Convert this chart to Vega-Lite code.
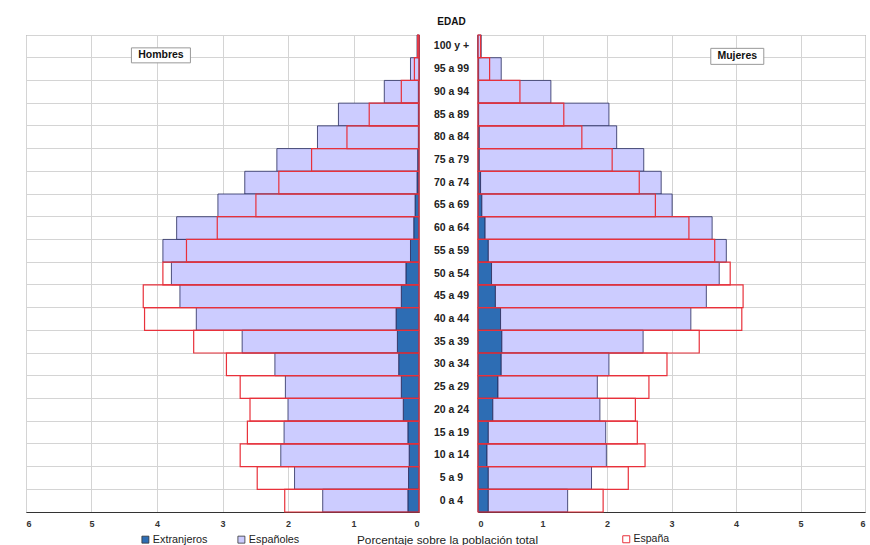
{
  "$schema": "https://vega.github.io/schema/vega-lite/v6.json",
  "background": "white",
  "padding": {"left": 25, "top": 15, "right": 0, "bottom": 0},
  "config": {
    "font": "Liberation Sans",
    "view": {"stroke": "#777777", "strokeWidth": 1}
  },
  "datasets": {
    "pop": [
      {"edad": "100 y +", "sexo": "Hombres", "serie": "Extranjeros", "valor": 0.0},
      {"edad": "95 a 99", "sexo": "Hombres", "serie": "Extranjeros", "valor": 0.0},
      {"edad": "90 a 94", "sexo": "Hombres", "serie": "Extranjeros", "valor": 0.01},
      {"edad": "85 a 89", "sexo": "Hombres", "serie": "Extranjeros", "valor": 0.01},
      {"edad": "80 a 84", "sexo": "Hombres", "serie": "Extranjeros", "valor": 0.01},
      {"edad": "75 a 79", "sexo": "Hombres", "serie": "Extranjeros", "valor": 0.02},
      {"edad": "70 a 74", "sexo": "Hombres", "serie": "Extranjeros", "valor": 0.03},
      {"edad": "65 a 69", "sexo": "Hombres", "serie": "Extranjeros", "valor": 0.06},
      {"edad": "60 a 64", "sexo": "Hombres", "serie": "Extranjeros", "valor": 0.08},
      {"edad": "55 a 59", "sexo": "Hombres", "serie": "Extranjeros", "valor": 0.13},
      {"edad": "50 a 54", "sexo": "Hombres", "serie": "Extranjeros", "valor": 0.2},
      {"edad": "45 a 49", "sexo": "Hombres", "serie": "Extranjeros", "valor": 0.27},
      {"edad": "40 a 44", "sexo": "Hombres", "serie": "Extranjeros", "valor": 0.35},
      {"edad": "35 a 39", "sexo": "Hombres", "serie": "Extranjeros", "valor": 0.33},
      {"edad": "30 a 34", "sexo": "Hombres", "serie": "Extranjeros", "valor": 0.31},
      {"edad": "25 a 29", "sexo": "Hombres", "serie": "Extranjeros", "valor": 0.27},
      {"edad": "20 a 24", "sexo": "Hombres", "serie": "Extranjeros", "valor": 0.24},
      {"edad": "15 a 19", "sexo": "Hombres", "serie": "Extranjeros", "valor": 0.17},
      {"edad": "10 a 14", "sexo": "Hombres", "serie": "Extranjeros", "valor": 0.15},
      {"edad": "5 a 9", "sexo": "Hombres", "serie": "Extranjeros", "valor": 0.16},
      {"edad": "0 a 4", "sexo": "Hombres", "serie": "Extranjeros", "valor": 0.17},
      {"edad": "100 y +", "sexo": "Hombres", "serie": "Españoles", "valor": 0.03},
      {"edad": "95 a 99", "sexo": "Hombres", "serie": "Españoles", "valor": 0.13},
      {"edad": "90 a 94", "sexo": "Hombres", "serie": "Españoles", "valor": 0.52},
      {"edad": "85 a 89", "sexo": "Hombres", "serie": "Españoles", "valor": 1.22},
      {"edad": "80 a 84", "sexo": "Hombres", "serie": "Españoles", "valor": 1.54},
      {"edad": "75 a 79", "sexo": "Hombres", "serie": "Españoles", "valor": 2.15},
      {"edad": "70 a 74", "sexo": "Hombres", "serie": "Españoles", "valor": 2.63},
      {"edad": "65 a 69", "sexo": "Hombres", "serie": "Españoles", "valor": 3.01},
      {"edad": "60 a 64", "sexo": "Hombres", "serie": "Españoles", "valor": 3.62},
      {"edad": "55 a 59", "sexo": "Hombres", "serie": "Españoles", "valor": 3.78},
      {"edad": "50 a 54", "sexo": "Hombres", "serie": "Españoles", "valor": 3.58},
      {"edad": "45 a 49", "sexo": "Hombres", "serie": "Españoles", "valor": 3.38},
      {"edad": "40 a 44", "sexo": "Hombres", "serie": "Españoles", "valor": 3.05},
      {"edad": "35 a 39", "sexo": "Hombres", "serie": "Españoles", "valor": 2.37},
      {"edad": "30 a 34", "sexo": "Hombres", "serie": "Españoles", "valor": 1.89},
      {"edad": "25 a 29", "sexo": "Hombres", "serie": "Españoles", "valor": 1.77},
      {"edad": "20 a 24", "sexo": "Hombres", "serie": "Españoles", "valor": 1.76},
      {"edad": "15 a 19", "sexo": "Hombres", "serie": "Españoles", "valor": 1.89},
      {"edad": "10 a 14", "sexo": "Hombres", "serie": "Españoles", "valor": 1.96},
      {"edad": "5 a 9", "sexo": "Hombres", "serie": "Españoles", "valor": 1.74},
      {"edad": "0 a 4", "sexo": "Hombres", "serie": "Españoles", "valor": 1.3},
      {"edad": "100 y +", "sexo": "Hombres", "serie": "España", "valor": 0.02},
      {"edad": "95 a 99", "sexo": "Hombres", "serie": "España", "valor": 0.07},
      {"edad": "90 a 94", "sexo": "Hombres", "serie": "España", "valor": 0.27},
      {"edad": "85 a 89", "sexo": "Hombres", "serie": "España", "valor": 0.76},
      {"edad": "80 a 84", "sexo": "Hombres", "serie": "España", "valor": 1.1},
      {"edad": "75 a 79", "sexo": "Hombres", "serie": "España", "valor": 1.64},
      {"edad": "70 a 74", "sexo": "Hombres", "serie": "España", "valor": 2.14},
      {"edad": "65 a 69", "sexo": "Hombres", "serie": "España", "valor": 2.49},
      {"edad": "60 a 64", "sexo": "Hombres", "serie": "España", "valor": 3.08},
      {"edad": "55 a 59", "sexo": "Hombres", "serie": "España", "valor": 3.55},
      {"edad": "50 a 54", "sexo": "Hombres", "serie": "España", "valor": 3.91},
      {"edad": "45 a 49", "sexo": "Hombres", "serie": "España", "valor": 4.21},
      {"edad": "40 a 44", "sexo": "Hombres", "serie": "España", "valor": 4.19},
      {"edad": "35 a 39", "sexo": "Hombres", "serie": "España", "valor": 3.44},
      {"edad": "30 a 34", "sexo": "Hombres", "serie": "España", "valor": 2.94},
      {"edad": "25 a 29", "sexo": "Hombres", "serie": "España", "valor": 2.73},
      {"edad": "20 a 24", "sexo": "Hombres", "serie": "España", "valor": 2.58},
      {"edad": "15 a 19", "sexo": "Hombres", "serie": "España", "valor": 2.62},
      {"edad": "10 a 14", "sexo": "Hombres", "serie": "España", "valor": 2.73},
      {"edad": "5 a 9", "sexo": "Hombres", "serie": "España", "valor": 2.47},
      {"edad": "0 a 4", "sexo": "Hombres", "serie": "España", "valor": 2.05},
      {"edad": "100 y +", "sexo": "Mujeres", "serie": "Extranjeros", "valor": 0.0},
      {"edad": "95 a 99", "sexo": "Mujeres", "serie": "Extranjeros", "valor": 0.01},
      {"edad": "90 a 94", "sexo": "Mujeres", "serie": "Extranjeros", "valor": 0.01},
      {"edad": "85 a 89", "sexo": "Mujeres", "serie": "Extranjeros", "valor": 0.01},
      {"edad": "80 a 84", "sexo": "Mujeres", "serie": "Extranjeros", "valor": 0.02},
      {"edad": "75 a 79", "sexo": "Mujeres", "serie": "Extranjeros", "valor": 0.02},
      {"edad": "70 a 74", "sexo": "Mujeres", "serie": "Extranjeros", "valor": 0.04},
      {"edad": "65 a 69", "sexo": "Mujeres", "serie": "Extranjeros", "valor": 0.06},
      {"edad": "60 a 64", "sexo": "Mujeres", "serie": "Extranjeros", "valor": 0.11},
      {"edad": "55 a 59", "sexo": "Mujeres", "serie": "Extranjeros", "valor": 0.16},
      {"edad": "50 a 54", "sexo": "Mujeres", "serie": "Extranjeros", "valor": 0.21},
      {"edad": "45 a 49", "sexo": "Mujeres", "serie": "Extranjeros", "valor": 0.27},
      {"edad": "40 a 44", "sexo": "Mujeres", "serie": "Extranjeros", "valor": 0.35},
      {"edad": "35 a 39", "sexo": "Mujeres", "serie": "Extranjeros", "valor": 0.37},
      {"edad": "30 a 34", "sexo": "Mujeres", "serie": "Extranjeros", "valor": 0.36},
      {"edad": "25 a 29", "sexo": "Mujeres", "serie": "Extranjeros", "valor": 0.31},
      {"edad": "20 a 24", "sexo": "Mujeres", "serie": "Extranjeros", "valor": 0.23},
      {"edad": "15 a 19", "sexo": "Mujeres", "serie": "Extranjeros", "valor": 0.16},
      {"edad": "10 a 14", "sexo": "Mujeres", "serie": "Extranjeros", "valor": 0.14},
      {"edad": "5 a 9", "sexo": "Mujeres", "serie": "Extranjeros", "valor": 0.16},
      {"edad": "0 a 4", "sexo": "Mujeres", "serie": "Extranjeros", "valor": 0.16},
      {"edad": "100 y +", "sexo": "Mujeres", "serie": "Españoles", "valor": 0.05},
      {"edad": "95 a 99", "sexo": "Mujeres", "serie": "Españoles", "valor": 0.35},
      {"edad": "90 a 94", "sexo": "Mujeres", "serie": "Españoles", "valor": 1.12},
      {"edad": "85 a 89", "sexo": "Mujeres", "serie": "Españoles", "valor": 2.02},
      {"edad": "80 a 84", "sexo": "Mujeres", "serie": "Españoles", "valor": 2.13},
      {"edad": "75 a 79", "sexo": "Mujeres", "serie": "Españoles", "valor": 2.55},
      {"edad": "70 a 74", "sexo": "Mujeres", "serie": "Españoles", "valor": 2.8},
      {"edad": "65 a 69", "sexo": "Mujeres", "serie": "Españoles", "valor": 2.95},
      {"edad": "60 a 64", "sexo": "Mujeres", "serie": "Españoles", "valor": 3.52},
      {"edad": "55 a 59", "sexo": "Mujeres", "serie": "Españoles", "valor": 3.69},
      {"edad": "50 a 54", "sexo": "Mujeres", "serie": "Españoles", "valor": 3.53},
      {"edad": "45 a 49", "sexo": "Mujeres", "serie": "Españoles", "valor": 3.27},
      {"edad": "40 a 44", "sexo": "Mujeres", "serie": "Españoles", "valor": 2.95},
      {"edad": "35 a 39", "sexo": "Mujeres", "serie": "Españoles", "valor": 2.19},
      {"edad": "30 a 34", "sexo": "Mujeres", "serie": "Españoles", "valor": 1.67},
      {"edad": "25 a 29", "sexo": "Mujeres", "serie": "Españoles", "valor": 1.54},
      {"edad": "20 a 24", "sexo": "Mujeres", "serie": "Españoles", "valor": 1.66},
      {"edad": "15 a 19", "sexo": "Mujeres", "serie": "Españoles", "valor": 1.82},
      {"edad": "10 a 14", "sexo": "Mujeres", "serie": "Españoles", "valor": 1.85},
      {"edad": "5 a 9", "sexo": "Mujeres", "serie": "Españoles", "valor": 1.6},
      {"edad": "0 a 4", "sexo": "Mujeres", "serie": "Españoles", "valor": 1.23},
      {"edad": "100 y +", "sexo": "Mujeres", "serie": "España", "valor": 0.04},
      {"edad": "95 a 99", "sexo": "Mujeres", "serie": "España", "valor": 0.18},
      {"edad": "90 a 94", "sexo": "Mujeres", "serie": "España", "valor": 0.65},
      {"edad": "85 a 89", "sexo": "Mujeres", "serie": "España", "valor": 1.33},
      {"edad": "80 a 84", "sexo": "Mujeres", "serie": "España", "valor": 1.61},
      {"edad": "75 a 79", "sexo": "Mujeres", "serie": "España", "valor": 2.08},
      {"edad": "70 a 74", "sexo": "Mujeres", "serie": "España", "valor": 2.5},
      {"edad": "65 a 69", "sexo": "Mujeres", "serie": "España", "valor": 2.75},
      {"edad": "60 a 64", "sexo": "Mujeres", "serie": "España", "valor": 3.27},
      {"edad": "55 a 59", "sexo": "Mujeres", "serie": "España", "valor": 3.67},
      {"edad": "50 a 54", "sexo": "Mujeres", "serie": "España", "valor": 3.91},
      {"edad": "45 a 49", "sexo": "Mujeres", "serie": "España", "valor": 4.11},
      {"edad": "40 a 44", "sexo": "Mujeres", "serie": "España", "valor": 4.09},
      {"edad": "35 a 39", "sexo": "Mujeres", "serie": "España", "valor": 3.43},
      {"edad": "30 a 34", "sexo": "Mujeres", "serie": "España", "valor": 2.93},
      {"edad": "25 a 29", "sexo": "Mujeres", "serie": "España", "valor": 2.65},
      {"edad": "20 a 24", "sexo": "Mujeres", "serie": "España", "valor": 2.44},
      {"edad": "15 a 19", "sexo": "Mujeres", "serie": "España", "valor": 2.47},
      {"edad": "10 a 14", "sexo": "Mujeres", "serie": "España", "valor": 2.59},
      {"edad": "5 a 9", "sexo": "Mujeres", "serie": "España", "valor": 2.33},
      {"edad": "0 a 4", "sexo": "Mujeres", "serie": "España", "valor": 1.94}
    ],
    "paneles": [{"panel": "Hombres"}],
    "paneles2": [{"panel": "Mujeres"}]
  },
  "bounds": "flush",
  "spacing": 59,
  "resolve": {
    "scale": {"x": "independent", "y": "independent", "fill": "independent", "stroke": "independent"},
    "legend": {"fill": "independent", "stroke": "independent"}
  },
  "hconcat": [
    {
      "width": 393,
      "height": 477,
      "layer": [
        {
          "data": {"name": "pop"},
          "transform": [{"filter": "datum.sexo === 'Hombres' && datum.serie !== 'España'"}],
          "mark": {"type": "bar", "stroke": "#24285a", "strokeWidth": 0.8},
          "encoding": {
            "y": {
              "field": "edad", "type": "nominal",
              "scale": {"domain": ["100 y +","95 a 99","90 a 94","85 a 89","80 a 84","75 a 79","70 a 74","65 a 69","60 a 64","55 a 59","50 a 54","45 a 49","40 a 44","35 a 39","30 a 34","25 a 29","20 a 24","15 a 19","10 a 14","5 a 9","0 a 4"], "paddingInner": 0, "paddingOuter": 0},
              "axis": {"bandPosition": 0, "labels": false, "ticks": false, "domain": false, "grid": true, "gridColor": "#d4d4d4", "title": null}
            },
            "x": {
              "field": "valor", "type": "quantitative", "stack": "zero",
              "scale": {"domain": [0, 6], "reverse": true, "nice": false},
              "axis": {"values": [0,1,2,3,4,5,6], "format": "d", "grid": true, "gridColor": "#d4d4d4", "ticks": false, "domainColor": "#333333", "labelFontWeight": "bold", "labelFontSize": 9, "labelColor": "#333333", "labelPadding": 7,
                "title": "Porcentaje sobre la población total", "titleX": 421, "titleY": 27, "titleAlign": "center", "titleBaseline": "middle", "titleFontWeight": "normal", "titleFontSize": 11.8, "titleColor": "#222222"}
            },
            "fill": {
              "field": "serie", "type": "nominal",
              "scale": {"domain": ["Extranjeros", "Españoles"], "range": ["#2d6db4", "#ccccff"]},
              "legend": {"orient": "none", "legendX": 114, "legendY": 499, "direction": "horizontal", "title": null, "symbolType": "square", "symbolSize": 49, "symbolStrokeColor": "#333333", "symbolStrokeWidth": 0.8, "labelFontSize": 10.8, "labelColor": "#222222", "labelOffset": 2, "columnPadding": 28, "padding": 0}
            },
            "order": {"field": "serie", "sort": "descending"}
          }
        },
        {
          "data": {"name": "pop"},
          "transform": [{"filter": "datum.sexo === 'Hombres' && datum.serie === 'España'"}],
          "mark": {"type": "bar", "fill": "transparent", "stroke": "#e8313b", "strokeWidth": 1.2},
          "encoding": {
            "y": {"field": "edad", "type": "nominal"},
            "x": {"field": "valor", "type": "quantitative"}
          }
        },
        {
          "data": {"name": "paneles"},
          "mark": {"type": "point", "shape": "M-1,-0.254H1V0.254H-1Z", "size": 3481, "filled": true, "fill": "white", "stroke": "#999999", "strokeWidth": 1, "opacity": 1, "yOffset": 9},
          "encoding": {
            "x": {"datum": 3.94, "type": "quantitative"},
            "y": {"datum": "100 y +", "type": "nominal"}
          }
        },
        {
          "data": {"name": "paneles"},
          "mark": {"type": "text", "fontWeight": "bold", "fontSize": 10.5, "color": "#111111", "yOffset": 9},
          "encoding": {
            "text": {"field": "panel"},
            "x": {"datum": 3.94, "type": "quantitative"},
            "y": {"datum": "100 y +", "type": "nominal"}
          }
        }
      ]
    },
    {
      "width": 387,
      "height": 477,
      "layer": [
        {
          "data": {"name": "pop"},
          "transform": [{"filter": "datum.sexo === 'Mujeres' && datum.serie !== 'España'"}],
          "mark": {"type": "bar", "stroke": "#24285a", "strokeWidth": 0.8},
          "encoding": {
            "y": {
              "field": "edad", "type": "nominal",
              "scale": {"domain": ["100 y +","95 a 99","90 a 94","85 a 89","80 a 84","75 a 79","70 a 74","65 a 69","60 a 64","55 a 59","50 a 54","45 a 49","40 a 44","35 a 39","30 a 34","25 a 29","20 a 24","15 a 19","10 a 14","5 a 9","0 a 4"], "paddingInner": 0, "paddingOuter": 0},
              "axis": {"orient": "left", "bandPosition": 0, "ticks": false, "domain": false, "grid": true, "gridColor": "#d4d4d4", "labelAlign": "center", "labelPadding": 27, "labelFontWeight": "bold", "labelFontSize": 10.5, "labelColor": "#222222",
                "title": "EDAD", "titleAngle": 0, "titleX": -27, "titleY": -14, "titleAlign": "center", "titleBaseline": "middle", "titleFontWeight": "bold", "titleFontSize": 10, "titleColor": "#111111"}
            },
            "x": {
              "field": "valor", "type": "quantitative", "stack": "zero",
              "scale": {"domain": [0, 6], "nice": false},
              "axis": {"values": [0,1,2,3,4,5,6], "format": "d", "grid": true, "gridColor": "#d4d4d4", "ticks": false, "domainColor": "#333333", "labelFontWeight": "bold", "labelFontSize": 9, "labelColor": "#333333", "labelPadding": 7, "title": null}
            },
            "fill": {
              "field": "serie", "type": "nominal",
              "scale": {"domain": ["Extranjeros", "Españoles"], "range": ["#2d6db4", "#ccccff"]},
              "legend": null
            },
            "order": {"field": "serie", "sort": "descending"}
          }
        },
        {
          "data": {"name": "pop"},
          "transform": [{"filter": "datum.sexo === 'Mujeres' && datum.serie === 'España'"}],
          "mark": {"type": "bar", "fill": "transparent", "strokeWidth": 1.2},
          "encoding": {
            "y": {"field": "edad", "type": "nominal"},
            "x": {"field": "valor", "type": "quantitative"},
            "stroke": {
              "field": "serie", "type": "nominal",
              "scale": {"domain": ["España"], "range": ["#e8313b"]},
              "legend": {"orient": "none", "legendX": 143, "legendY": 499, "title": null, "symbolType": "square", "symbolSize": 49, "symbolFillColor": "white", "symbolStrokeWidth": 1, "labelFontSize": 10.5, "labelColor": "#222222", "labelOffset": 2, "padding": 0}
            }
          }
        },
        {
          "data": {"name": "paneles2"},
          "mark": {"type": "point", "shape": "M-1,-0.302H1V0.302H-1Z", "size": 2809, "filled": true, "fill": "white", "stroke": "#999999", "strokeWidth": 1, "opacity": 1, "yOffset": 10},
          "encoding": {
            "x": {"datum": 4.02, "type": "quantitative"},
            "y": {"datum": "100 y +", "type": "nominal"}
          }
        },
        {
          "data": {"name": "paneles2"},
          "mark": {"type": "text", "fontWeight": "bold", "fontSize": 10.5, "color": "#111111", "yOffset": 10},
          "encoding": {
            "text": {"field": "panel"},
            "x": {"datum": 4.02, "type": "quantitative"},
            "y": {"datum": "100 y +", "type": "nominal"}
          }
        }
      ]
    }
  ]
}
